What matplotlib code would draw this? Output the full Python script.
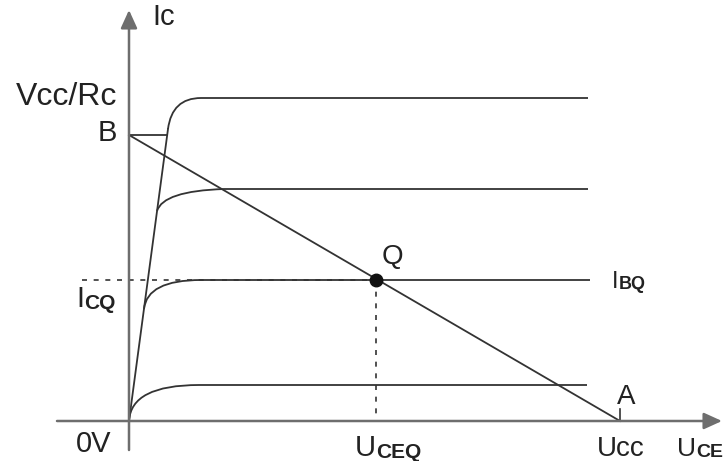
import matplotlib.pyplot as plt
from matplotlib.path import Path
from matplotlib.patches import PathPatch

# values measured in pixels from the origin of the reference sketch
ucc = 491          # point A on the U_CE axis
uceq = 247         # U_CEQ
icq = 141          # I_CQ
b_level = 286      # point B, Vcc/Rc

# output characteristic curves (bottom to top)
curve_start = [(0, 0), (15, 112), (28, 210), (39, 292)]
curve_ctrl = [(2, 36), (18, 141), (34, 230), (43, 323)]
curve_knee = [(70, 36), (72, 141), (95, 232), (72, 323)]
curve_level = [36, 141, 232, 323]
curve_end = [458, 461, 459, 459]
sat_top = (39, 292)

line_c = '#333333'
axis_c = '#6e6e6e'
text_c = '#222222'
plt.rcParams['font.family'] = ['Liberation Sans', 'DejaVu Sans']

fig = plt.figure(figsize=(7.27, 4.61), dpi=100)
ax = fig.add_axes([0, 0, 1, 1])
ax.set_xlim(-129, 727 - 129)
ax.set_ylim(-(461 - 421), 421)
ax.axis('off')

# axes with arrow heads
arrow = dict(arrowstyle='-|>,head_length=0.55,head_width=0.25', mutation_scale=20,
             color=axis_c, lw=1.8, shrinkA=0, shrinkB=0)
ax.annotate('', xy=(593, 0), xytext=(-72, 0), arrowprops=arrow)
ax.annotate('', xy=(0, 411), xytext=(0, -29), arrowprops=arrow)
ax.plot([ucc, ucc], [0, 12], color=line_c, lw=1.2)

# saturation line and curves
ax.plot([0, sat_top[0]], [0, sat_top[1]], color=line_c, lw=1.3)
for s, c, k, lvl, e in zip(curve_start, curve_ctrl, curve_knee, curve_level, curve_end):
    p = Path([s, c, k, (e, lvl)],
             [Path.MOVETO, Path.CURVE3, Path.CURVE3, Path.LINETO])
    ax.add_patch(PathPatch(p, fill=False, ec=line_c, lw=1.3))

# load line
ax.plot([0, sat_top[0] - 1], [b_level, b_level], color=line_c, lw=1.3)
ax.plot([0, ucc], [b_level, 0], color=line_c, lw=1.3)

# Q point
ax.plot([-47, uceq], [icq, icq], color=line_c, lw=1.2, ls=(0, (3, 4)))
ax.plot([uceq, uceq], [icq, 0], color=line_c, lw=1.2, ls=(0, (3, 4)))
ax.plot(uceq, icq, 'o', color='#111111', ms=9)


def label(x, y, big, small='', size=20, small_size=14):
    t = ax.text(x, y, big, fontsize=size, color=text_c, ha='left', va='baseline')
    if small:
        ax.annotate(small, xy=(1, 0), xycoords=t, fontsize=small_size,
                    fontweight='bold', color=text_c, ha='left', va='bottom')
    return t


label(23, 396, 'Ic', size=21)
ax.text(-12, 324, 'Vcc/Rc', fontsize=23, color=text_c, ha='right', va='center')
ax.text(-12, 288, 'B', fontsize=21, color=text_c, ha='right', va='center')
label(-53, 114, 'I', 'CQ', size=21, small_size=15)
ax.text(263, 164, 'Q', fontsize=20, color=text_c, ha='center', va='center')
label(483, 133, 'I', 'BQ', size=17, small_size=13)
ax.text(497, 24, 'A', fontsize=20, color=text_c, ha='center', va='center')
label(-53, -31, '0V', size=21)
label(226, -35, 'U', 'CEQ', size=21, small_size=15)
label(468, -35, 'Ucc', size=20)
label(548, -35, 'U', 'CE', size=19, small_size=14)

fig.savefig('out.png', dpi=100)
